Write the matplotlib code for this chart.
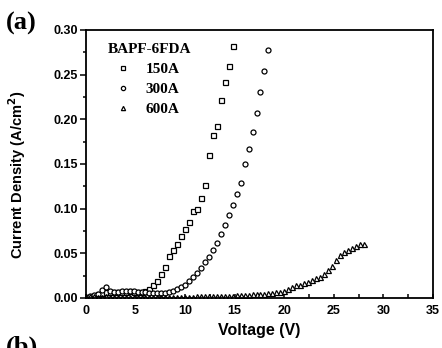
import matplotlib
matplotlib.use("Agg")
import matplotlib.pyplot as plt
from matplotlib.ticker import MultipleLocator, FormatStrFormatter

# ---- data ----
v_150 = [round(0.4 * i, 1) for i in range(38)]
j_150 = [0.000, 0.001, 0.002, 0.004, 0.006, 0.007, 0.007, 0.007, 0.007, 0.007,
         0.007, 0.008, 0.007, 0.007, 0.007, 0.008, 0.010, 0.014, 0.019, 0.027,
         0.035, 0.047, 0.054, 0.060, 0.069, 0.077, 0.085, 0.097, 0.100, 0.112,
         0.127, 0.160, 0.183, 0.193, 0.222, 0.242, 0.260, 0.282]

v_300 = [round(0.4 * i, 1) for i in range(47)]
j_300 = [0.001, 0.002, 0.003, 0.005, 0.009, 0.012, 0.008, 0.007, 0.007, 0.008,
         0.008, 0.008, 0.008, 0.007, 0.007, 0.007, 0.006, 0.006, 0.006, 0.006,
         0.006, 0.007, 0.008, 0.010, 0.012, 0.015, 0.019, 0.023, 0.028, 0.034,
         0.040, 0.046, 0.054, 0.062, 0.072, 0.082, 0.093, 0.104, 0.116, 0.129,
         0.150, 0.167, 0.186, 0.207, 0.231, 0.254, 0.278]

v_600 = [round(0.4 * i, 1) for i in range(71)]
j_600 = [0.001, 0.002, 0.002, 0.001, 0.001, 0.002, 0.001, 0.001, 0.001, 0.001,
         0.001, 0.001, 0.001, 0.001, 0.001, 0.001, 0.001, 0.001, 0.001, 0.001,
         0.001, 0.001, 0.001, 0.001, 0.001, 0.001, 0.001, 0.001, 0.002, 0.002,
         0.002, 0.002, 0.002, 0.002, 0.002, 0.002, 0.002, 0.002, 0.003, 0.003,
         0.003, 0.003, 0.004, 0.004, 0.005, 0.005, 0.006, 0.006, 0.007, 0.007,
         0.008, 0.010, 0.012, 0.014, 0.015, 0.017, 0.018, 0.020, 0.022, 0.024,
         0.027, 0.031, 0.036, 0.042, 0.048, 0.052, 0.054, 0.056, 0.058, 0.060,
         0.061]

labels = ["150A", "300A", "600A"]
legend_title = "BAPF-6FDA"

# ---- figure ----
fig = plt.figure(figsize=(4.42, 3.48), dpi=100)
ax = fig.add_axes([86 / 442, 1 - 298 / 348, (433 - 86) / 442, (298 - 30) / 348])

mk = dict(linestyle="none", markerfacecolor="white", markeredgecolor="black",
          markeredgewidth=0.9, markersize=3.6)
ax.plot(v_150, j_150, marker="s", label=labels[0], **mk)
ax.plot(v_300, j_300, marker="o", label=labels[1], **mk)
ax.plot(v_600, j_600, marker="^", label=labels[2], **mk)

ax.set_xlim(0, 35)
ax.set_ylim(0, 0.30)
ax.xaxis.set_major_locator(MultipleLocator(5))
ax.xaxis.set_minor_locator(MultipleLocator(2.5))
ax.yaxis.set_major_locator(MultipleLocator(0.05))
ax.yaxis.set_minor_locator(MultipleLocator(0.025))
ax.yaxis.set_major_formatter(FormatStrFormatter("%.2f"))

for s in ax.spines.values():
    s.set_linewidth(1.3)

ax.tick_params(axis="y", which="both", direction="out", width=1.1, left=True, right=False)
ax.tick_params(axis="y", which="major", length=4, pad=2)
ax.tick_params(axis="y", which="minor", length=2.5)
ax.tick_params(axis="x", which="both", direction="in", width=1.1, length=3, top=False)
ax.tick_params(axis="x", which="major", pad=5)

for lab in ax.get_xticklabels() + ax.get_yticklabels():
    lab.set_fontfamily("Liberation Sans")
    lab.set_fontweight("bold")
    lab.set_fontsize(9)

ax.set_xlabel("Voltage (V)", fontfamily="Liberation Sans", fontweight="bold",
              fontsize=11.5, labelpad=4)
ax.set_ylabel("Current Density (A/cm$^\\mathbf{2}$)", fontfamily="Liberation Sans",
              fontweight="bold", fontsize=10.5)
ax.yaxis.set_label_coords(-0.167, 0.46)

leg = ax.legend(title=legend_title, loc="upper left", frameon=False,
                bbox_to_anchor=(0.045, 0.975),
                prop=dict(family="Liberation Serif", weight="bold", size=11),
                title_fontproperties=dict(family="Liberation Serif", weight="bold", size=11),
                handletextpad=0.5, labelspacing=0.42, borderaxespad=0.0,
                markerscale=0.85, handlelength=2.0)
leg._legend_box.align = "left"

fig.text(6 / 442, 1 - 23 / 348, "(a)", fontfamily="Liberation Serif",
         fontweight="bold", fontsize=19, va="center", ha="left")
fig.text(6 / 442, 1 - 336 / 348, "(b)", fontfamily="Liberation Serif",
         fontweight="bold", fontsize=19, va="top", ha="left")

fig.savefig("out.png", dpi=100)
